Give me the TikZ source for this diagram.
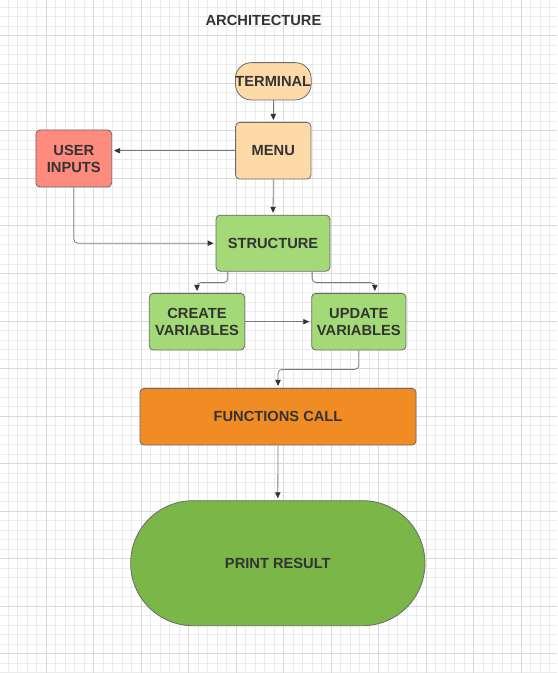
\documentclass[tikz,border=0pt]{standalone}
\usepackage{fontspec}
\setmainfont{Liberation Sans}
\usetikzlibrary{arrows.meta,calc}
\definecolor{gminor}{HTML}{EBEBEB}
\definecolor{gmajor}{HTML}{D9D9D9}
\definecolor{txt}{HTML}{333333}
\definecolor{peach}{HTML}{FFDAA9}
\definecolor{salmon}{HTML}{FF8A7E}
\definecolor{lgreen}{HTML}{A3D977}
\definecolor{orng}{HTML}{F08C23}
\definecolor{dgreen}{HTML}{7AB648}
\definecolor{bord}{HTML}{6A6A6A}
\definecolor{wire}{HTML}{7A7A7A}
\tikzset{
  box/.style={draw=bord, line width=0.6pt, rounded corners=3pt, inner sep=0pt, align=center,
    text=txt, font=\fontsize{11}{12.75}\selectfont\bfseries},
  conn/.style={draw=wire, line width=0.6pt, rounded corners=3pt,
    -{Triangle[length=4.5pt,width=4pt,color=txt]}, shorten >=1.5pt},
  minorln/.style={draw=gminor, line width=0.75pt},
  majorln/.style={draw=gmajor, line width=0.75pt}
}
\begin{document}
\begin{tikzpicture}[x=0.75pt,y=-0.75pt]
\useasboundingbox (0,0) rectangle (557,673);
\fill[white] (0,0) rectangle (557,673);
% grid
\foreach \i in {0,...,57} \draw[minorln] ({8+\i*9.5},0) -- ({8+\i*9.5},673);
\foreach \j in {0,...,70} \draw[minorln] (0,{7.5+\j*9.5}) -- (557,{7.5+\j*9.5});
\foreach \i in {0,...,10} \draw[majorln] ({46+\i*47.5},0) -- ({46+\i*47.5},673);
\foreach \j in {0,...,13} \draw[majorln] (0,{36+\j*47.5}) -- (557,{36+\j*47.5});

\node[text=txt, font=\fontsize{11}{12.75}\selectfont\bfseries] (title) at (263.5,20) {ARCHITECTURE};

\node[box, fill=peach, rounded corners=12pt, minimum width=56.5pt, minimum height=28pt] (term) at (273.3,81.3) {TERMINAL};
\node[box, fill=peach, minimum width=56.5pt, minimum height=42.5pt] (menu) at (273.3,150.7) {MENU};
\node[box, fill=salmon, minimum width=56.8pt, minimum height=42.75pt] (usr) at (73.8,158.5) {USER\\INPUTS};
\node[box, fill=lgreen, minimum width=85.5pt, minimum height=42pt] (str) at (273,243.2) {STRUCTURE};
\node[box, fill=lgreen, minimum width=71.5pt, minimum height=42.5pt] (cv) at (197,321.7) {CREATE\\VARIABLES};
\node[box, fill=lgreen, minimum width=70.7pt, minimum height=42.5pt] (uv) at (358.8,321.7) {UPDATE\\VARIABLES};
\node[box, fill=orng, minimum width=207pt, minimum height=42.5pt] (fc) at (278,416.7) {FUNCTIONS CALL};
\node[box, fill=dgreen, rounded corners=46.8pt, minimum width=220.7pt, minimum height=93.75pt] (pr) at (277.8,563.2) {PRINT RESULT};

\draw[conn] (term.south) -- (menu.north);
\draw[conn] (menu.west) -- (menu.west -| usr.east);
\draw[conn] (menu.south) -- (str.north);
\draw[conn] (usr.south) |- (str.west);
\draw[conn] ([xshift=9.2pt]str.south west) -- ++(0,11) -| (cv.north);
\draw[conn] ([xshift=-13.7pt]str.south east) -- ++(0,11) -| ([xshift=12pt]uv.north);
\draw[conn] (cv.east) -- (uv.west);
\draw[conn] (uv.south) -- ++(0,19) -| (fc.north);
\draw[conn] (fc.south) -- (pr.north);
\end{tikzpicture}
\end{document}
